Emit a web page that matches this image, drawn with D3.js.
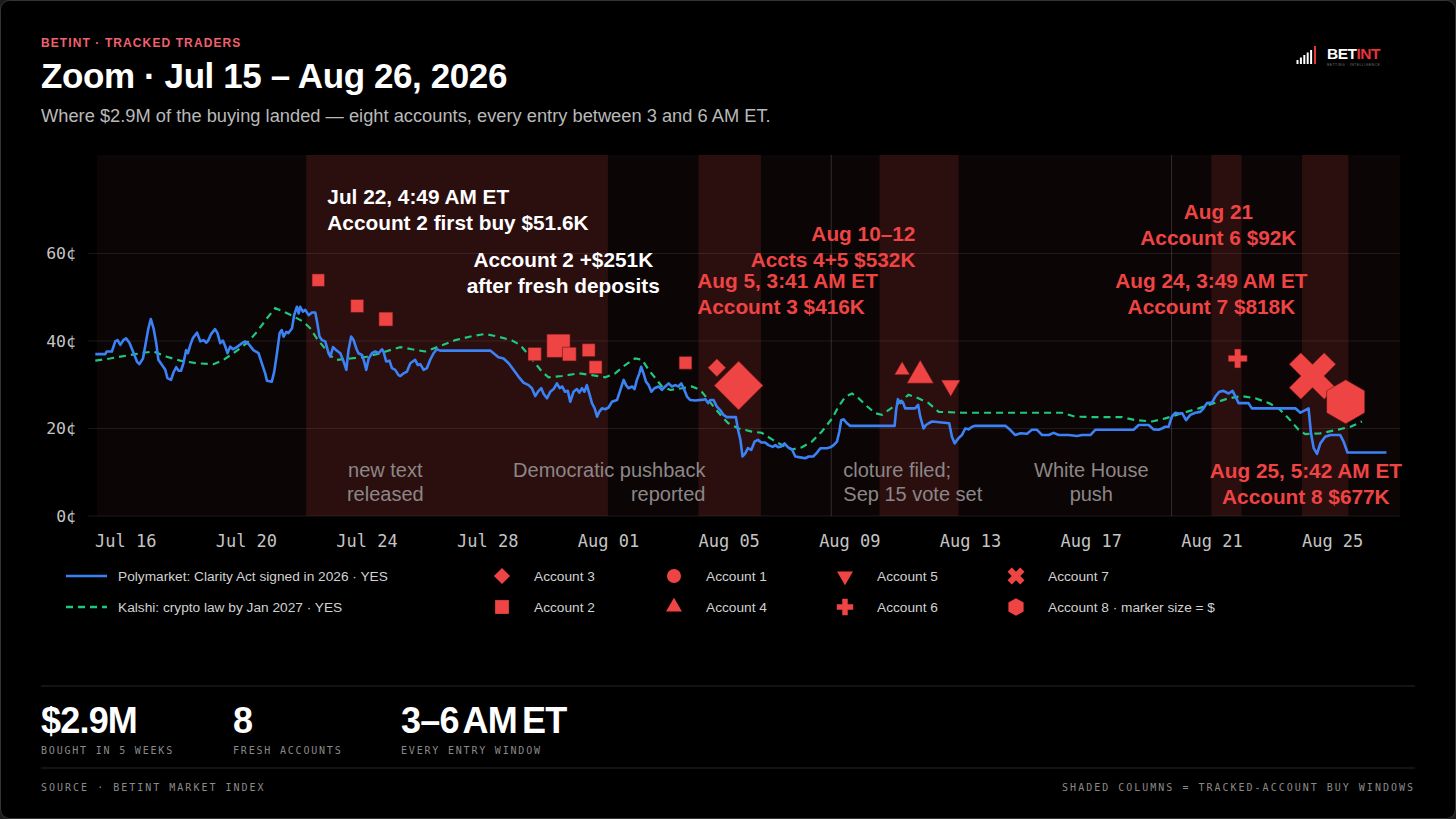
<!DOCTYPE html>
<html><head><meta charset="utf-8">
<script src="https://cdn.jsdelivr.net/npm/d3@7"></script>
<style>
html,body{margin:0;padding:0;background:#1c1c1c;}
svg{display:block;}
</style></head>
<body>
<svg id="c" width="1456" height="819"></svg>
<script>
// ---------- DATA ----------
// time is expressed as days since Jul 15, 2026 00:00 ET
const START = new Date(2026, 6, 15);
const tickDays = [1, 5, 9, 13, 17, 21, 25, 29, 33, 37, 41];
const yTicks = [0, 20, 40, 60];

// Polymarket: Clarity Act signed in 2026 · YES  [day, cents]
const polymarket = [
[0.01,37.0],[0.34,37.0],[0.39,37.6],[0.56,37.6],[0.67,39.9],[0.75,40.2],[0.84,39.1],[0.94,40.2],[1.03,40.6],[1.14,39.6],
[1.26,37.6],[1.39,35.3],[1.47,34.7],[1.59,36.0],[1.70,40.2],[1.77,42.9],[1.85,45.0],[1.94,42.9],[2.03,39.5],[2.10,35.7],
[2.22,34.5],[2.33,33.4],[2.40,31.5],[2.52,31.1],[2.60,32.8],[2.69,34.0],[2.77,33.2],[2.85,33.2],[2.93,34.9],[3.02,37.9],
[3.08,37.2],[3.16,39.1],[3.24,40.6],[3.38,41.9],[3.49,39.9],[3.60,40.2],[3.69,39.6],[3.76,40.2],[3.84,41.5],[3.98,42.7],
[4.06,41.8],[4.15,39.5],[4.24,40.1],[4.32,38.7],[4.39,37.2],[4.48,38.7],[4.57,38.1],[4.70,38.6],[4.87,39.5],[4.98,39.9],
[5.09,39.3],[5.25,37.9],[5.42,37.2],[5.53,34.9],[5.64,32.6],[5.70,30.9],[5.86,30.7],[5.94,33.0],[6.03,37.2],[6.12,41.8],
[6.19,42.5],[6.25,41.0],[6.34,42.1],[6.41,41.8],[6.53,42.9],[6.60,45.9],[6.69,47.8],[6.75,46.3],[6.80,47.8],[6.89,46.7],
[6.97,47.1],[7.08,45.9],[7.19,46.5],[7.30,46.5],[7.37,44.0],[7.44,41.0],[7.52,40.2],[7.63,39.9],[7.74,37.2],[7.80,36.4],
[7.89,38.6],[7.99,37.9],[8.13,37.2],[8.24,35.3],[8.33,33.4],[8.40,37.9],[8.49,41.0],[8.57,40.2],[8.66,38.3],[8.73,37.2],
[8.85,36.8],[8.92,35.3],[8.99,33.4],[9.07,36.0],[9.18,37.2],[9.29,37.6],[9.40,37.2],[9.51,38.1],[9.56,37.6],[9.65,35.3],
[9.76,35.5],[9.84,33.8],[9.95,33.4],[10.06,32.2],[10.12,32.0],[10.23,32.6],[10.34,33.0],[10.45,34.9],[10.61,35.7],[10.70,34.5],
[10.78,34.7],[10.89,33.4],[11.00,33.8],[11.11,35.7],[11.22,37.2],[11.33,38.1],[11.44,37.8],[13.10,37.8],[13.21,37.2],[13.37,36.3],
[13.54,36.0],[13.71,34.9],[13.87,33.4],[14.04,31.8],[14.20,30.5],[14.37,29.9],[14.48,29.2],[14.59,27.4],[14.68,28.4],[14.79,29.2],
[14.87,27.9],[14.98,26.9],[15.09,28.4],[15.20,29.0],[15.31,30.3],[15.40,29.2],[15.48,29.6],[15.58,28.4],[15.67,28.6],[15.75,26.1],
[15.86,28.4],[15.97,29.0],[16.05,28.2],[16.14,29.2],[16.22,28.4],[16.30,29.9],[16.38,28.0],[16.47,25.8],[16.56,24.6],[16.64,22.7],
[16.71,23.8],[16.80,24.6],[16.91,24.4],[17.02,24.8],[17.13,26.1],[17.30,26.5],[17.41,28.8],[17.52,31.1],[17.60,29.9],[17.68,29.2],
[17.80,29.6],[17.88,29.0],[17.96,31.1],[18.04,32.6],[18.10,34.1],[18.18,32.6],[18.26,30.7],[18.35,29.9],[18.44,28.4],[18.54,29.2],
[18.68,29.6],[18.79,28.8],[18.90,29.6],[19.01,30.3],[19.12,29.6],[19.23,29.9],[19.34,29.6],[19.43,30.3],[19.51,29.2],[19.62,27.3],
[19.73,26.5],[19.89,26.4],[20.17,26.6],[20.23,26.7],[20.32,25.8],[20.39,26.5],[20.50,26.5],[20.61,25.0],[20.72,24.2],[20.83,23.1],
[20.94,22.6],[21.24,22.6],[21.31,19.7],[21.39,17.4],[21.46,13.6],[21.55,14.3],[21.64,15.5],[21.75,15.1],[21.86,17.0],[21.97,17.4],
[22.08,16.8],[22.21,16.8],[22.32,16.2],[22.46,15.8],[22.55,16.2],[22.64,15.7],[22.74,15.9],[22.85,16.6],[22.97,15.7],[23.10,15.2],
[23.21,13.6],[23.37,13.4],[23.54,13.2],[23.65,13.6],[23.81,13.6],[23.93,14.5],[24.04,15.5],[24.26,15.5],[24.37,15.7],[24.48,16.2],
[24.59,17.0],[24.67,19.3],[24.73,21.9],[24.81,22.1],[24.92,21.2],[25.03,20.6],[26.50,20.6],[26.55,24.2],[26.61,26.7],[26.69,25.8],
[26.77,26.1],[26.85,24.6],[27.18,24.6],[27.28,25.4],[27.35,22.7],[27.46,20.0],[27.54,20.8],[27.63,21.2],[27.74,21.6],[28.31,21.2],
[28.40,18.1],[28.49,16.6],[28.62,17.8],[28.73,18.5],[28.84,20.0],[28.95,19.8],[29.07,20.4],[29.17,20.6],[30.17,20.6],[30.33,19.7],
[30.50,18.5],[30.67,18.9],[30.89,18.8],[31.05,19.7],[31.22,19.7],[31.39,18.5],[31.61,18.5],[31.77,19.0],[31.94,18.5],[32.27,18.5],
[32.55,18.3],[32.71,18.5],[32.99,18.5],[33.15,19.7],[34.42,19.7],[34.59,20.8],[34.92,20.8],[35.08,19.8],[35.25,19.7],[35.36,20.0],
[35.47,20.4],[35.58,20.4],[35.69,22.7],[35.80,23.6],[35.91,23.4],[36.03,23.5],[36.16,21.9],[36.30,23.1],[36.47,23.6],[36.63,23.8],
[36.74,24.6],[36.85,25.8],[37.02,25.9],[37.13,27.3],[37.26,28.4],[37.40,28.6],[37.57,28.0],[37.70,28.6],[37.79,27.4],[37.90,25.8],
[38.23,25.8],[38.34,24.6],[39.78,24.6],[39.95,23.6],[40.11,24.2],[40.22,24.6],[40.30,18.9],[40.39,15.5],[40.50,14.2],[40.61,16.6],
[40.77,18.1],[40.94,18.5],[41.27,18.5],[41.38,17.0],[41.51,14.5],[42.80,14.5]
];

// Kalshi: crypto law by Jan 2027 · YES  [day, cents]
const kalshi = [
[0.01,35.5],[0.50,36.0],[1.17,36.8],[1.61,37.3],[1.94,37.6],[2.38,36.4],[2.82,35.5],[3.38,34.9],[3.93,34.7],[4.26,35.7],
[4.59,37.2],[5.03,39.5],[5.37,42.1],[5.70,45.2],[5.97,47.5],[6.25,46.7],[6.58,45.6],[6.91,44.4],[7.13,42.9],[7.35,40.6],
[7.57,38.7],[7.85,36.4],[8.02,35.7],[8.46,36.0],[9.01,36.4],[9.45,37.2],[9.78,37.9],[10.12,38.6],[10.50,38.1],[10.94,37.6],
[11.39,38.7],[11.94,40.2],[12.49,41.1],[12.93,41.6],[13.37,41.0],[13.82,40.1],[14.09,39.1],[14.37,36.8],[14.59,34.9],[14.81,33.0],
[15.03,31.7],[15.48,32.0],[16.03,32.6],[16.47,32.2],[16.91,31.7],[17.24,32.6],[17.57,34.5],[17.90,36.0],[18.13,35.7],[18.35,33.4],
[18.57,31.5],[18.79,29.6],[19.07,28.8],[19.45,29.2],[19.78,29.6],[20.00,29.0],[20.11,28.4],[20.33,26.5],[20.55,24.6],[20.78,22.7],
[20.99,21.2],[21.33,20.0],[21.77,19.3],[22.10,19.0],[22.44,17.5],[22.77,16.2],[23.10,15.2],[23.43,15.7],[23.76,17.0],[24.09,19.3],
[24.43,22.3],[24.64,25.0],[24.87,27.3],[25.09,28.0],[25.31,26.9],[25.53,25.4],[25.86,23.5],[26.08,23.1],[26.30,24.2],[26.63,25.8],
[26.96,27.7],[27.29,26.9],[27.63,25.8],[27.96,23.8],[28.73,23.6],[32.05,23.6],[32.49,22.7],[33.15,22.6],[34.04,22.6],[34.48,21.9],
[35.03,21.6],[35.47,22.3],[36.03,23.5],[36.58,24.6],[37.13,25.9],[37.57,26.9],[38.01,27.4],[38.45,26.9],[38.90,25.8],[39.23,24.6],
[39.56,22.3],[39.89,19.7],[40.11,18.7],[40.61,18.9],[41.17,19.7],[41.61,20.4],[41.99,21.6]
];

// tracked-account buy windows (shaded columns) [startDay, endDay]
const buyWindows = [[7, 17], [20, 22.07], [26, 28.62], [37, 38], [40, 41.54]];
const refLineDays = [24.40, 35.68];

// tracked buys: account, day, price (cents), amount ($K)
const buyAccount = [2, 2, 2, 2, 2, 2, 2, 2, 2, 3, 3, 4, 4, 5, 6, 7, 8];
const buyDay     = [7.40, 8.69, 9.64, 14.57, 15.36, 15.72, 16.36, 16.59, 19.57, 20.61, 21.33, 26.75, 27.35, 28.36, 37.87, 40.35, 41.45];
const buyCents   = [53.9, 48.0, 45.0, 37.0, 38.9, 37.0, 37.9, 34.0, 35.0, 33.9, 29.8, 33.3, 32.1, 29.8, 36.0, 32.0, 26.1];
const buyAmountK = [52, 56, 65, 59, 181, 63, 56, 56, 54, 54, 400, 34, 103, 52, 67, 454, 419];

// callouts: text lines, anchor day, anchor cents
const calloutLines = [
  ["Jul 22, 4:49 AM ET", "Account 2 first buy $51.6K"],
  ["Account 2 +$251K", "after fresh deposits"],
  ["Aug 10–12", "Accts 4+5 $532K"],
  ["Aug 5, 3:41 AM ET", "Account 3 $416K"],
  ["Aug 21", "Account 6 $92K"],
  ["Aug 24, 3:49 AM ET", "Account 7 $818K"],
  ["Aug 25, 5:42 AM ET", "Account 8 $677K"]
];
const calloutDay   = [7.70, 15.52, 27.19, 19.96, 37.23, 37.00, 40.13];
const calloutCents = [71.3, 56.9, 62.9, 52.1, 67.9, 52.1, 8.7];
const calloutAlign = ["start", "middle", "end", "start", "middle", "middle", "middle"];
const calloutTone  = ["white", "white", "red", "red", "red", "red", "red"];

// context notes
const noteLines = [["new text", "released"], ["Democratic pushback", "reported"], ["cloture filed;", "Sep 15 vote set"], ["White House", "push"]];
const noteDay   = [9.62, 20.23, 24.80, 33.02];
const noteCents = [8.9, 8.9, 8.9, 8.9];
const noteAlign = ["middle", "end", "start", "middle"];

const seriesNames = ["Polymarket: Clarity Act signed in 2026 · YES", "Kalshi: crypto law by Jan 2027 · YES"];
const legendAccounts = [3, 2, 1, 4, 5, 6, 7, 8];
const legendNames = ["Account 3", "Account 2", "Account 1", "Account 4", "Account 5", "Account 6", "Account 7", "Account 8 · marker size = $"];

const statValues = ["$2.9M", "8", "3–6 AM ET"];
const statLabels = ["BOUGHT IN 5 WEEKS", "FRESH ACCOUNTS", "EVERY ENTRY WINDOW"];

// ---------- RENDER ----------
const W = 1456, H = 819;
const SANS = "'Liberation Sans', Arial, Helvetica, sans-serif";
const MONO = "'DejaVu Sans Mono', 'Liberation Mono', monospace";
const RED = "#ef4444";
const BLUE = "#3b82f6";
const GREEN = "#1ec97e";

const toDate = d => new Date(START.getTime() + d * 86400000);
const svg = d3.select("#c");

svg.append("rect").attr("x", 0.5).attr("y", 0.5).attr("width", W - 1).attr("height", H - 1)
  .attr("rx", 9).attr("fill", "#000").attr("stroke", "#343434");

const plot = { l: 95, r: 1400, t: 155, b: 516 };
const x = d3.scaleTime().domain([toDate(0), toDate(43.25)]).range([plot.l, plot.r]);
const y = d3.scaleLinear().domain([0, 82.5]).range([plot.b, plot.t]);

// plot background
svg.append("rect").attr("x", 97).attr("y", plot.t).attr("width", plot.r - 97).attr("height", plot.b - plot.t)
  .attr("fill", "#0c0505");

svg.append("g").selectAll("rect").data(buyWindows).join("rect")
  .attr("x", d => x(toDate(d[0]))).attr("width", d => x(toDate(d[1])) - x(toDate(d[0])))
  .attr("y", plot.t).attr("height", plot.b - plot.t)
  .attr("fill", "#2b0e0e");

// grid
svg.append("g").selectAll("line").data(yTicks).join("line")
  .attr("x1", 88).attr("x2", plot.r).attr("y1", d => y(d)).attr("y2", d => y(d))
  .attr("stroke", "#ffffff").attr("stroke-opacity", 0.09).attr("stroke-width", 1);

svg.append("g").selectAll("line").data(refLineDays).join("line")
  .attr("x1", d => x(toDate(d))).attr("x2", d => x(toDate(d)))
  .attr("y1", plot.t).attr("y2", plot.b)
  .attr("stroke", "#ffffff").attr("stroke-opacity", 0.16).attr("stroke-width", 1);

// axes
const yAxis = d3.axisLeft(y).tickValues(yTicks).tickFormat(d => d + "¢").tickSize(0).tickPadding(0);
const gy = svg.append("g").attr("transform", "translate(76,0)").call(yAxis);
gy.select(".domain").remove();
gy.selectAll("text").attr("font-family", MONO).attr("font-size", 16.5).attr("fill", "#c4c4c4");

const xAxis = d3.axisBottom(x).tickValues(tickDays.map(toDate)).tickFormat(d3.timeFormat("%b %d")).tickSize(0).tickPadding(0);
const gx = svg.append("g").attr("transform", "translate(0,535)").call(xAxis);
gx.select(".domain").remove();
gx.selectAll("text").attr("font-family", MONO).attr("font-size", 17).attr("fill", "#c4c4c4").attr("dy", "0.71em");

// context notes
noteLines.forEach((lines, i) => {
  const t = svg.append("text").attr("x", x(toDate(noteDay[i]))).attr("y", y(noteCents[i]))
    .attr("text-anchor", noteAlign[i]).attr("font-family", SANS).attr("font-size", 20)
    .attr("fill", "#8c8787");
  lines.forEach((l, j) => t.append("tspan").attr("x", x(toDate(noteDay[i]))).attr("dy", j ? 24 : 0).text(l));
});

// lines
const line = d3.line().x(d => x(toDate(d[0]))).y(d => y(d[1]));
svg.append("path").datum(kalshi).attr("d", line).attr("fill", "none")
  .attr("stroke", GREEN).attr("stroke-width", 2.2).attr("stroke-dasharray", "7,5");
svg.append("path").datum(polymarket).attr("d", line).attr("fill", "none")
  .attr("stroke", BLUE).attr("stroke-width", 2.6).attr("stroke-linejoin", "round");

// symbols
const hexagon = { draw(ctx, size) {
  const R = Math.sqrt(size / (1.5 * Math.sqrt(3)));
  for (let i = 0; i < 6; i++) {
    const a = Math.PI / 3 * i - Math.PI / 2;
    const px = R * Math.cos(a), py = R * Math.sin(a);
    if (i) ctx.lineTo(px, py); else ctx.moveTo(px, py);
  }
  ctx.closePath();
}};
const shapeOf = {
  1: [d3.symbolCircle, 0], 2: [d3.symbolSquare, 0], 3: [d3.symbolSquare, 45], 4: [d3.symbolTriangle, 0],
  5: [d3.symbolTriangle, 180], 6: [d3.symbolCross, 0], 7: [d3.symbolCross, 45], 8: [hexagon, 0]
};
const area = d3.scaleLinear().domain([0, 1]).range([0, 3]); // $K -> px²

const buys = buyAccount.map((a, i) => ({ a, day: buyDay[i], c: buyCents[i], k: buyAmountK[i] }));
svg.append("g").selectAll("path").data(buys).join("path")
  .attr("d", d => d3.symbol(shapeOf[d.a][0], area(d.k))())
  .attr("transform", d => `translate(${x(toDate(d.day))},${y(d.c)}) rotate(${shapeOf[d.a][1]})`)
  .attr("fill", RED).attr("stroke", "#5a1212").attr("stroke-width", 0.8).attr("stroke-opacity", 0.7);

// callouts
calloutLines.forEach((lines, i) => {
  const cx = x(toDate(calloutDay[i]));
  const t = svg.append("text").attr("x", cx).attr("y", y(calloutCents[i]))
    .attr("text-anchor", calloutAlign[i]).attr("font-family", SANS).attr("font-weight", 700)
    .attr("font-size", 20.8).attr("fill", calloutTone[i] === "red" ? RED : "#ffffff");
  lines.forEach((l, j) => t.append("tspan").attr("x", cx).attr("dy", j ? 26 : 0).text(l));
});

// legend
const lg = svg.append("g").attr("font-family", SANS).attr("font-size", 13.7).attr("fill", "#d2d2d2");
[[BLUE, null], [GREEN, "7,5"]].forEach((s, i) => {
  const yy = 576 + i * 31;
  lg.append("line").attr("x1", 66).attr("x2", 107).attr("y1", yy).attr("y2", yy)
    .attr("stroke", s[0]).attr("stroke-width", 2.6).attr("stroke-dasharray", s[1]);
  lg.append("text").attr("x", 118).attr("y", yy).attr("dy", "0.35em").text(seriesNames[i]);
});
const colX = [502, 674, 845, 1016];
const legendSize = { 1: 154, 2: 190, 3: 130, 4: 110, 5: 110, 6: 150, 7: 180, 8: 200 };
legendAccounts.forEach((a, i) => {
  const cx = colX[Math.floor(i / 2)], yy = 576 + (i % 2) * 31;
  lg.append("path").attr("d", d3.symbol(shapeOf[a][0], legendSize[a])())
    .attr("transform", `translate(${cx},${yy}) rotate(${shapeOf[a][1]})`).attr("fill", RED);
  lg.append("text").attr("x", cx + 32).attr("y", yy).attr("dy", "0.35em").text(legendNames[i]);
});

// header
svg.append("text").attr("x", 41).attr("y", 47).attr("font-family", SANS).attr("font-weight", 700)
  .attr("font-size", 12).attr("letter-spacing", 1.1).attr("fill", "#f0606e").text("BETINT · TRACKED TRADERS");
svg.append("text").attr("x", 41).attr("y", 88).attr("font-family", SANS).attr("font-weight", 700)
  .attr("font-size", 35).attr("letter-spacing", -0.4).attr("fill", "#ffffff").text("Zoom · Jul 15 – Aug 26, 2026");
svg.append("text").attr("x", 41).attr("y", 122).attr("font-family", SANS)
  .attr("font-size", 18.3).attr("fill", "#b9b9b9")
  .text("Where $2.9M of the buying landed — eight accounts, every entry between 3 and 6 AM ET.");

// logo
const logo = svg.append("g");
[4, 6.5, 9, 11.5, 14].forEach((h, i) => {
  logo.append("rect").attr("x", 1296.5 + i * 3.4).attr("y", 64 - h).attr("width", 2).attr("height", h).attr("fill", "#fff");
});
logo.append("rect").attr("x", 1314).attr("y", 46).attr("width", 2).attr("height", 18).attr("fill", "#e8323c");
const lt = logo.append("text").attr("x", 1327).attr("y", 59).attr("font-family", SANS).attr("font-weight", 700)
  .attr("font-size", 15.5).attr("letter-spacing", -0.5);
lt.append("tspan").attr("fill", "#fff").text("BET");
lt.append("tspan").attr("fill", "#e8323c").text("INT");
logo.append("text").attr("x", 1327).attr("y", 65.5).attr("font-family", SANS).attr("font-size", 3.4)
  .attr("letter-spacing", 0.5).attr("fill", "#777").text("BETTING · INTELLIGENCE");

// separators
[686, 768].forEach(yy => svg.append("line").attr("x1", 41).attr("x2", 1415).attr("y1", yy).attr("y2", yy)
  .attr("stroke", "#262626").attr("stroke-width", 1));

// stats
const statX = [41, 233, 401];
statValues.forEach((v, i) => {
  svg.append("text").attr("x", statX[i]).attr("y", 733).attr("font-family", SANS).attr("font-weight", 700)
    .attr("font-size", 36).attr("letter-spacing", -0.8).attr("word-spacing", -4).attr("fill", "#ffffff").text(v);
  svg.append("text").attr("x", statX[i]).attr("y", 754).attr("font-family", MONO)
    .attr("font-size", 10).attr("letter-spacing", 1.8).attr("fill", "#8a8a8a").text(statLabels[i]);
});

// footer
svg.append("text").attr("x", 41).attr("y", 791).attr("font-family", MONO).attr("font-size", 10)
  .attr("letter-spacing", 2).attr("fill", "#8a8a8a").text("SOURCE · BETINT MARKET INDEX");
svg.append("text").attr("x", 1415).attr("y", 791).attr("text-anchor", "end").attr("font-family", MONO).attr("font-size", 10)
  .attr("letter-spacing", 2).attr("fill", "#8a8a8a").text("SHADED COLUMNS = TRACKED-ACCOUNT BUY WINDOWS");
</script>
</body></html>
